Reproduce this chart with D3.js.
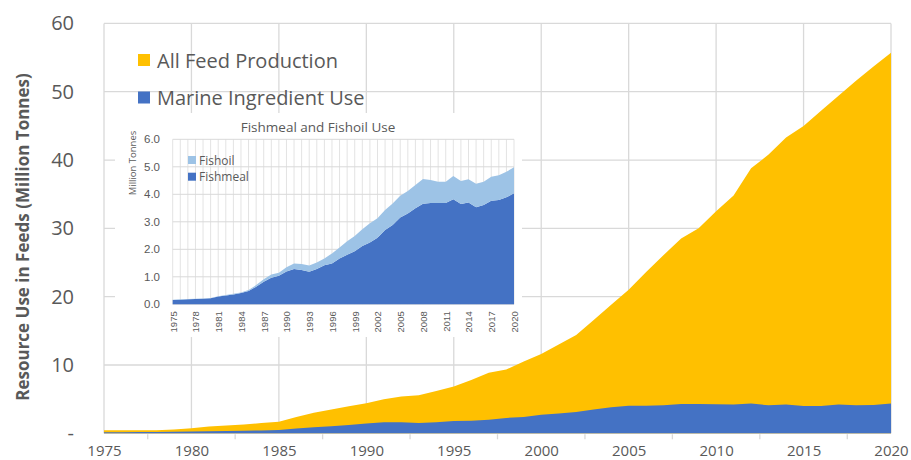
<!DOCTYPE html>
<html><head><meta charset="utf-8">
<script src="https://cdn.jsdelivr.net/npm/d3@7"></script>
<style>
html,body{margin:0;padding:0;background:#fff;}
svg{display:block;font-family:"Open Sans",sans-serif;}
</style></head>
<body><svg id="c" width="911" height="460"></svg>
<script>
const years = d3.range(1975, 2021);
const allFeed = [0.45,0.45,0.45,0.45,0.55,0.73,1.0,1.15,1.3,1.5,1.7,2.4,3.0,3.5,3.95,4.4,4.97,5.37,5.56,6.2,6.85,7.8,8.85,9.35,10.5,11.6,13.0,14.4,16.6,18.8,21.0,23.6,26.1,28.5,30.0,32.5,34.8,38.8,40.8,43.3,45.0,47.2,49.4,51.6,53.7,55.7];
const marine = [0.15,0.17,0.18,0.2,0.22,0.25,0.3,0.33,0.37,0.42,0.5,0.7,0.9,1.05,1.2,1.45,1.62,1.6,1.5,1.6,1.8,1.85,2.0,2.25,2.4,2.7,2.9,3.1,3.5,3.8,4.05,4.05,4.1,4.3,4.3,4.25,4.2,4.35,4.1,4.2,4.0,4.0,4.2,4.1,4.15,4.35];
const fishmeal = [0.16,0.17,0.18,0.19,0.2,0.22,0.28,0.32,0.36,0.41,0.48,0.64,0.82,0.97,1.04,1.19,1.28,1.25,1.18,1.28,1.42,1.48,1.67,1.8,1.93,2.12,2.25,2.42,2.7,2.88,3.16,3.3,3.49,3.66,3.68,3.68,3.68,3.82,3.65,3.7,3.53,3.61,3.77,3.79,3.89,4.04];
const fishoil = [0.01,0.01,0.01,0.01,0.01,0.01,0.01,0.02,0.02,0.02,0.04,0.06,0.09,0.11,0.11,0.16,0.2,0.22,0.23,0.24,0.25,0.37,0.4,0.49,0.55,0.61,0.7,0.71,0.73,0.79,0.79,0.82,0.85,0.9,0.84,0.78,0.78,0.85,0.83,0.85,0.85,0.85,0.87,0.9,0.93,0.94];
const mainYTicks = [0,10,20,30,40,50,60];
const mainYLabels = ["-","10","20","30","40","50","60"];
const mainXTicks = [1975,1980,1985,1990,1995,2000,2005,2010,2015,2020];
const insetYTicks = [0,1,2,3,4,5,6];
const insetXTicks = d3.range(1975, 2021, 3);
const mainLegend = ["All Feed Production","Marine Ingredient Use"];
const insetLegend = ["Fishoil","Fishmeal"];

const C_YEL="#FFC000", C_BLUE="#4472C4", C_LB="#9DC3E6", GRID="#d9d9d9", TXT="#595959";
const svg = d3.select("#c");

// main scales
const x = d3.scaleLinear().domain([1975,2020]).range([104,891]);
const y = d3.scaleLinear().domain([0,60]).range([433.3,23.4]);

// gridlines
const g = svg.append("g");
g.selectAll(".hg").data(mainYTicks).join("line")
  .attr("x1",104).attr("x2",891).attr("y1",d=>y(d)).attr("y2",d=>y(d))
  .attr("stroke",GRID).attr("stroke-width",1.3);
g.selectAll(".vg").data(mainXTicks).join("line")
  .attr("x1",d=>x(d)).attr("x2",d=>x(d)).attr("y1",y(60)).attr("y2",y(0))
  .attr("stroke",GRID).attr("stroke-width",1.3);

// areas
const data = years.map((yr,i)=>({yr, all:allFeed[i], m:marine[i]}));
svg.append("path").datum(data).attr("fill",C_YEL)
  .attr("d", d3.area().x(d=>x(d.yr)).y0(y(0)).y1(d=>y(d.all)));
svg.append("path").datum(data).attr("fill",C_BLUE)
  .attr("d", d3.area().x(d=>x(d.yr)).y0(y(0)).y1(d=>y(d.m)));

// minor ticks
const minor = d3.range(1977.5, 2020, 5);
svg.selectAll(".mt").data(minor).join("line")
  .attr("x1",d=>x(d)).attr("x2",d=>x(d)).attr("y1",y(0)+1).attr("y2",y(0)+6)
  .attr("stroke",GRID).attr("stroke-width",1.3);

// x axis labels
const xa = svg.append("g").attr("transform",`translate(0,${y(0)})`)
  .call(d3.axisBottom(x).tickValues(mainXTicks).tickFormat(d3.format("d")).tickSize(0).tickPadding(0));
xa.select(".domain").remove();
xa.selectAll("text").attr("font-size","15px").attr("fill",TXT).attr("font-family","'Open Sans',sans-serif")
  .attr("y",22.5).attr("dy",null);

// y axis labels
const ya = svg.append("g").attr("transform","translate(74,0)")
  .call(d3.axisLeft(y).tickValues(mainYTicks).tickFormat((d,i)=>mainYLabels[i]).tickSize(0).tickPadding(0));
ya.select(".domain").remove();
ya.selectAll("text").attr("font-size","20px").attr("fill",TXT).attr("font-family","'Open Sans',sans-serif");

// y title
svg.append("text").attr("transform","translate(22,237) rotate(-90)")
  .attr("text-anchor","middle").attr("dominant-baseline","central")
  .attr("font-size","17px").attr("font-weight","bold").attr("fill",TXT)
  .text("Resource Use in Feeds (Million Tonnes)");

// main legend
const lg = svg.append("g");
const lc = [C_YEL, C_BLUE];
lg.selectAll("rect").data(mainLegend).join("rect")
  .attr("x",138).attr("y",(d,i)=>54+i*37.5).attr("width",12).attr("height",12)
  .attr("fill",(d,i)=>lc[i]);
lg.selectAll("text").data(mainLegend).join("text")
  .attr("x",157).attr("y",(d,i)=>60+i*37.5).attr("dominant-baseline","central")
  .attr("font-size","20px").attr("fill",TXT).text(d=>d);

// inset
svg.append("rect").attr("x",115).attr("y",113).attr("width",407).attr("height",224).attr("fill","#fff");
const ix = d3.scaleLinear().domain([1975,2020]).range([172.7,514]);
const iy = d3.scaleLinear().domain([0,6]).range([304.3,139.3]);
const ig = svg.append("g");
ig.selectAll(".ivg").data(years).join("line")
  .attr("x1",d=>ix(d)).attr("x2",d=>ix(d)).attr("y1",iy(6)).attr("y2",iy(0))
  .attr("stroke","#e3e3e3").attr("stroke-width",1);
ig.selectAll(".ihg").data(insetYTicks).join("line")
  .attr("x1",ix(1975)).attr("x2",ix(2020)).attr("y1",d=>iy(d)).attr("y2",d=>iy(d))
  .attr("stroke",GRID).attr("stroke-width",1);

const idata = years.map((yr,i)=>({yr, fishmeal:fishmeal[i], fishoil:fishoil[i]}));
const stack = d3.stack().keys(["fishmeal","fishoil"])(idata);
const icol = {fishmeal:C_BLUE, fishoil:C_LB};
svg.append("g").selectAll("path").data(stack).join("path")
  .attr("fill",d=>icol[d.key])
  .attr("d", d3.area().x(d=>ix(d.data.yr)).y0(d=>iy(d[0])).y1(d=>iy(d[1])));

// inset axes
const ixa = svg.append("g").attr("transform",`translate(0,${iy(0)})`)
  .call(d3.axisBottom(ix).tickValues(insetXTicks).tickFormat(d3.format("d")).tickSize(0).tickPadding(0));
ixa.select(".domain").remove();
ixa.selectAll("text").attr("font-size","9.5px").attr("fill",TXT)
  .attr("transform","rotate(-90)").attr("text-anchor","end")
  .attr("x",-7).attr("y",0).attr("dy","0.35em");

const iya = svg.append("g").attr("transform","translate(160,0)")
  .call(d3.axisLeft(iy).tickValues(insetYTicks).tickFormat(d3.format(".1f")).tickSize(0).tickPadding(0));
iya.select(".domain").remove();
iya.selectAll("text").attr("font-size","11.5px").attr("fill",TXT);

svg.append("text").attr("transform","translate(132,163) rotate(-90)")
  .attr("text-anchor","middle").attr("dominant-baseline","central")
  .attr("font-size","9.5px").attr("fill",TXT).text("Million Tonnes");

svg.append("text").attr("x",318).attr("y",127).attr("text-anchor","middle")
  .attr("dominant-baseline","central").attr("font-size","13.5px").attr("fill",TXT)
  .text("Fishmeal and Fishoil Use");

const ilc = [C_LB, C_BLUE];
const il = svg.append("g");
il.selectAll("rect").data(insetLegend).join("rect")
  .attr("x",188).attr("y",(d,i)=>156+i*16.7).attr("width",8).attr("height",8)
  .attr("fill",(d,i)=>ilc[i]);
il.selectAll("text").data(insetLegend).join("text")
  .attr("x",199).attr("y",(d,i)=>160+i*16.7).attr("dominant-baseline","central")
  .attr("font-size","12px").attr("fill",TXT).text(d=>d);
</script></body></html>
